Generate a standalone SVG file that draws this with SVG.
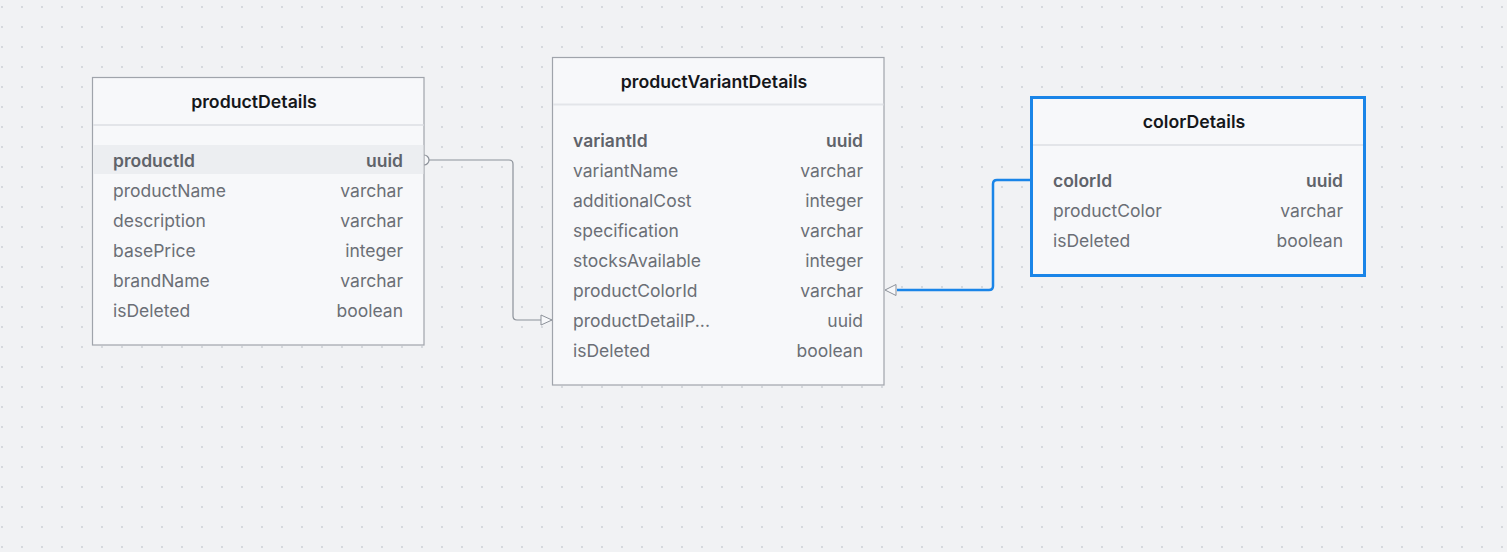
<svg xmlns="http://www.w3.org/2000/svg" width="1507" height="552" viewBox="0 0 1507 552">
<defs>
<pattern id="dots" x="0" y="0" width="20" height="20" patternUnits="userSpaceOnUse">
<circle cx="2" cy="7" r="0.9" fill="#c9cdd3"/>
</pattern>
<marker id="tri" markerWidth="14" markerHeight="12" refX="12" refY="6" orient="auto" markerUnits="userSpaceOnUse">
<path d="M1,1 L12,6 L1,11 Z" fill="#f7f8fa" stroke="#8c9199" stroke-width="1"/>
</marker>
</defs>
<style>
.tbl{fill:#f7f8fa;stroke:#a0a4ab;stroke-width:1.2}
.sel{fill:#f7f8fa;stroke:#1a85e8;stroke-width:3}
.sep{stroke:#e3e5e9;stroke-width:2}
.title{font-family:Inter,"Liberation Sans",sans-serif;font-size:17.7px;font-weight:600;fill:#15171a;text-anchor:middle}
.f{font-family:Inter,"Liberation Sans",sans-serif;font-size:17.5px;fill:#6b6f76}
.k{font-weight:600;fill:#5f636a}
.t{text-anchor:end}
.conn{fill:none;stroke:#8c9199;stroke-width:1.2}
.connb{fill:none;stroke:#1a85e8;stroke-width:2.5}
</style>
<rect width="1507" height="552" fill="#f1f2f4"/>
<rect width="1507" height="552" fill="url(#dots)"/>

<g id="connectors">
<path class="conn" d="M428,160 H509 Q513,160 513,164 V316 Q513,320 517,320 H552" marker-end="url(#tri)"/>
<path d="M424,155 A5,5 0 0 1 424,165" fill="#f7f8fa" stroke="#8c9199" stroke-width="1.2"/>
<path class="connb" d="M1031,180 H997 Q993,180 993,184 V286 Q993,290 989,290 H897"/>
<path d="M885,290 L896,284.5 L896,295.5 Z" fill="#f7f8fa" stroke="#8c9199" stroke-width="1"/>
</g>

<g id="productDetails">
<rect class="tbl" x="92.5" y="77.5" width="331.5" height="267.5"/>
<line class="sep" x1="93" y1="125" x2="423.5" y2="125"/>
<text class="title" x="254" y="108">productDetails</text>
<rect x="93.2" y="145" width="330.2" height="29" fill="#eceef1"/>
<text class="f k" x="113" y="167">productId</text><text class="f k t" x="403" y="167">uuid</text>
<text class="f" x="113" y="197">productName</text><text class="f t" x="403" y="197">varchar</text>
<text class="f" x="113" y="227">description</text><text class="f t" x="403" y="227">varchar</text>
<text class="f" x="113" y="257">basePrice</text><text class="f t" x="403" y="257">integer</text>
<text class="f" x="113" y="287">brandName</text><text class="f t" x="403" y="287">varchar</text>
<text class="f" x="113" y="317">isDeleted</text><text class="f t" x="403" y="317">boolean</text>
</g>

<g id="productVariantDetails">
<rect class="tbl" x="552.5" y="57.5" width="331.5" height="327.5"/>
<line class="sep" x1="553" y1="104.5" x2="883.5" y2="104.5"/>
<text class="title" x="714" y="88">productVariantDetails</text>
<text class="f k" x="573" y="147">variantId</text><text class="f k t" x="863" y="147">uuid</text>
<text class="f" x="573" y="177">variantName</text><text class="f t" x="863" y="177">varchar</text>
<text class="f" x="573" y="207">additionalCost</text><text class="f t" x="863" y="207">integer</text>
<text class="f" x="573" y="237">specification</text><text class="f t" x="863" y="237">varchar</text>
<text class="f" x="573" y="267">stocksAvailable</text><text class="f t" x="863" y="267">integer</text>
<text class="f" x="573" y="297">productColorId</text><text class="f t" x="863" y="297">varchar</text>
<text class="f" x="573" y="327">productDetailP...</text><text class="f t" x="863" y="327">uuid</text>
<text class="f" x="573" y="357">isDeleted</text><text class="f t" x="863" y="357">boolean</text>
</g>

<g id="colorDetails">
<rect class="sel" x="1031.5" y="97.5" width="333" height="178"/>
<line class="sep" x1="1033" y1="145" x2="1363" y2="145"/>
<text class="title" x="1194" y="128">colorDetails</text>
<text class="f k" x="1053" y="187">colorId</text><text class="f k t" x="1343" y="187">uuid</text>
<text class="f" x="1053" y="217">productColor</text><text class="f t" x="1343" y="217">varchar</text>
<text class="f" x="1053" y="247">isDeleted</text><text class="f t" x="1343" y="247">boolean</text>
</g>
</svg>
